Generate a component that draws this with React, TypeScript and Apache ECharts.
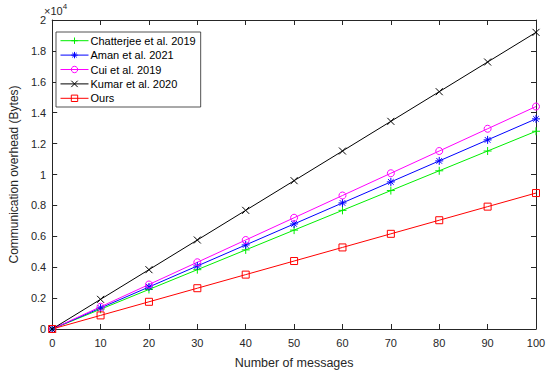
import React, { useEffect, useRef } from "react";
import * as echarts from "echarts";

const messages = [0, 10, 20, 30, 40, 50, 60, 70, 80, 90, 100];
const chatterjee = [0, 1280, 2560, 3840, 5120, 6400, 7680, 8960, 10240, 11520, 12800];
const aman = [0, 1360, 2720, 4080, 5440, 6800, 8160, 9520, 10880, 12240, 13600];
const cui = [0, 1440, 2880, 4320, 5760, 7200, 8640, 10080, 11520, 12960, 14400];
const kumar = [0, 1920, 3840, 5760, 7680, 9600, 11520, 13440, 15360, 17280, 19200];
const ours = [0, 880, 1760, 2640, 3520, 4400, 5280, 6160, 7040, 7920, 8800];

const seriesNames = ["Chatterjee et al. 2019", "Aman et al. 2021", "Cui et al. 2019", "Kumar et al. 2020", "Ours"];
const seriesData = [chatterjee, aman, cui, kumar, ours];
const seriesColors = ["#00ee00", "#0000ff", "#ff00ff", "#000000", "#ff0000"];

const PLUS = "path://M5,0 L5,10 M0,5 L10,5";
const CROSS = "path://M0,0 L10,10 M10,0 L0,10";
const STAR = "path://M5,0 L5,10 M0,5 L10,5 M1.5,1.5 L8.5,8.5 M8.5,1.5 L1.5,8.5";
const symbols = [PLUS, STAR, "circle", CROSS, "rect"];
const symbolSizes = [8, 8, 7, 7, 7];

const FONT = "'Liberation Sans', Arial, sans-serif";
const AX = "#262626";

export default function App() {
  const ref = useRef<HTMLDivElement>(null);
  useEffect(() => {
    if (!ref.current) return;
    const chart = echarts.init(ref.current, null, { renderer: "svg" });
    const xCommon = {
      type: "value" as const,
      min: 0,
      max: 100,
      interval: 10,
      splitLine: { show: false },
      axisLine: { show: true, onZero: false, lineStyle: { color: AX, width: 1 } },
      axisTick: { show: true, inside: true, length: 5, lineStyle: { color: AX } },
    };
    const yCommon = {
      type: "value" as const,
      min: 0,
      max: 20000,
      interval: 2000,
      splitLine: { show: false },
      axisLine: { show: true, onZero: false, lineStyle: { color: AX, width: 1 } },
      axisTick: { show: true, inside: true, length: 5, lineStyle: { color: AX } },
    };
    chart.setOption({
      animation: false,
      backgroundColor: "#ffffff",
      textStyle: { fontFamily: FONT },
      grid: { left: 42, right: 14, top: 20, bottom: 45, containLabel: false },
      xAxis: [
        {
          ...xCommon,
          position: "bottom",
          name: "Number of messages",
          nameLocation: "middle",
          nameGap: 27,
          nameTextStyle: { color: AX, fontSize: 12.5, fontFamily: FONT },
          axisLabel: { color: AX, fontSize: 11, fontFamily: FONT, margin: 8 },
        },
        { ...xCommon, position: "top", axisLabel: { show: false } },
      ],
      yAxis: [
        {
          ...yCommon,
          position: "left",
          name: "Communication overhead (Bytes)",
          nameLocation: "middle",
          nameGap: 28,
          nameTextStyle: { color: AX, fontSize: 12, fontFamily: FONT },
          axisLabel: {
            color: AX,
            fontSize: 11,
            fontFamily: FONT,
            margin: 6,
            formatter: (v: number) => String(parseFloat((v / 10000).toFixed(1))),
          },
        },
        { ...yCommon, position: "right", axisLabel: { show: false } },
      ],
      legend: {
        left: 56,
        top: 32,
        orient: "vertical",
        backgroundColor: "#ffffff",
        borderColor: "#262626",
        borderWidth: 0.8,
        borderRadius: 0,
        padding: [3, 5, 3, 4],
        itemWidth: 28,
        itemHeight: 8,
        itemGap: 3,
        lineStyle: { width: 1 },
        itemStyle: { borderWidth: 1 },
        textStyle: { color: "#000", fontSize: 11, fontFamily: FONT, padding: [0, 0, 0, -3] },
        data: seriesNames,
      },
      graphic: [
        {
          type: "text",
          left: 44,
          top: 2,
          style: {
            text: "{a|×10}{b|4}",
            rich: {
              a: { fontSize: 11, fontFamily: FONT, fill: AX, padding: [6, 0, 0, 0] },
              b: { fontSize: 8, fontFamily: FONT, fill: AX, padding: [0, 0, 4, 0] },
            },
          },
        },
      ],
      series: seriesNames.map((name, i) => ({
        name,
        type: "line",
        data: messages.map((m, j) => [m, seriesData[i][j]]),
        symbol: symbols[i],
        symbolSize: symbolSizes[i],
        showAllSymbol: true,
        lineStyle: { color: seriesColors[i], width: 1 },
        itemStyle: { color: "none", borderColor: seriesColors[i], borderWidth: 1 },
        emphasis: { disabled: true },
      })),
    });
    return () => chart.dispose();
  }, []);
  return <div ref={ref} style={{ width: 550, height: 374, position: "absolute", left: 0, top: 0 }} />;
}
